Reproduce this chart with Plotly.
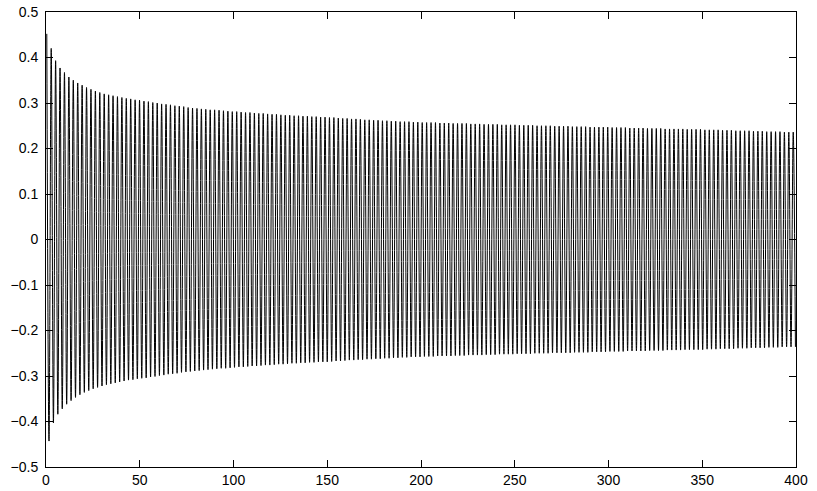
import plotly.graph_objects as go

# Signed values of successive extrema (peak, trough, peak, ...)
extrema = [
    0.452, -0.443, 0.420, -0.403, 0.393, -0.384, 0.377, -0.372, 0.367, -0.362,
    0.357, -0.354, 0.350, -0.347, 0.344, -0.341, 0.339, -0.336, 0.334, -0.332,
    0.330, -0.328, 0.326, -0.325, 0.323, -0.322, 0.320, -0.319, 0.318, -0.317,
    0.316, -0.315, 0.314, -0.313, 0.312, -0.311, 0.310, -0.309, 0.309, -0.308,
    0.307, -0.306, 0.306, -0.305, 0.304, -0.304, 0.303, -0.302, 0.301, -0.301,
    0.300, -0.299, 0.298, -0.298, 0.297, -0.296, 0.296, -0.295, 0.294, -0.294,
    0.293, -0.292, 0.292, -0.291, 0.290, -0.290, 0.289, -0.289, 0.288, -0.288,
    0.287, -0.287, 0.286, -0.286, 0.285, -0.285, 0.285, -0.284, 0.284, -0.283,
    0.283, -0.283, 0.282, -0.282, 0.281, -0.281, 0.281, -0.280, 0.280, -0.280,
    0.279, -0.279, 0.279, -0.278, 0.278, -0.278, 0.277, -0.277, 0.277, -0.276,
    0.276, -0.276, 0.275, -0.275, 0.275, -0.274, 0.274, -0.274, 0.273, -0.273,
    0.273, -0.272, 0.272, -0.272, 0.272, -0.271, 0.271, -0.271, 0.271, -0.270,
    0.270, -0.270, 0.270, -0.269, 0.269, -0.269, 0.269, -0.269, 0.268, -0.268,
    0.268, -0.267, 0.267, -0.267, 0.266, -0.266, 0.266, -0.265, 0.265, -0.265,
    0.265, -0.264, 0.264, -0.264, 0.263, -0.263, 0.263, -0.263, 0.262, -0.262,
    0.262, -0.262, 0.261, -0.261, 0.261, -0.261, 0.260, -0.260, 0.260, -0.260,
    0.259, -0.259, 0.259, -0.259, 0.259, -0.258, 0.258, -0.258, 0.258, -0.258,
    0.257, -0.257, 0.257, -0.257, 0.257, -0.257, 0.257, -0.256, 0.256, -0.256,
    0.256, -0.256, 0.256, -0.256, 0.255, -0.255, 0.255, -0.255, 0.255, -0.255,
    0.255, -0.254, 0.254, -0.254, 0.254, -0.254, 0.254, -0.254, 0.253, -0.253,
    0.253, -0.253, 0.253, -0.253, 0.253, -0.252, 0.252, -0.252, 0.252, -0.252,
    0.252, -0.252, 0.252, -0.251, 0.251, -0.251, 0.251, -0.251, 0.251, -0.251,
    0.251, -0.250, 0.250, -0.250, 0.250, -0.250, 0.250, -0.250, 0.250, -0.249,
    0.249, -0.249, 0.249, -0.249, 0.249, -0.249, 0.249, -0.249, 0.248, -0.248,
    0.248, -0.248, 0.248, -0.248, 0.248, -0.248, 0.247, -0.247, 0.247, -0.247,
    0.247, -0.247, 0.247, -0.247, 0.247, -0.246, 0.246, -0.246, 0.246, -0.246,
    0.246, -0.246, 0.246, -0.245, 0.245, -0.245, 0.245, -0.245, 0.245, -0.245,
    0.245, -0.245, 0.244, -0.244, 0.244, -0.244, 0.244, -0.244, 0.244, -0.244,
    0.243, -0.243, 0.243, -0.243, 0.243, -0.243, 0.243, -0.243, 0.243, -0.242,
    0.242, -0.242, 0.242, -0.242, 0.242, -0.242, 0.242, -0.242, 0.241, -0.241,
    0.241, -0.241, 0.241, -0.241, 0.241, -0.240, 0.240, -0.240, 0.240, -0.240,
    0.240, -0.240, 0.239, -0.239, 0.239, -0.239, 0.239, -0.239, 0.239, -0.238,
    0.238, -0.238, 0.238, -0.238, 0.238, -0.238, 0.237, -0.237, 0.237, -0.237,
    0.237, -0.237, 0.237, -0.236, 0.236, -0.236, 0.236, -0.236, 0.236, -0.236,
]
first_extremum_x = 0.422     # x of first extremum (read)
half_period = 1.1778         # spacing between successive extrema (read)

x_tick_vals = [0, 50, 100, 150, 200, 250, 300, 350, 400]
x_tick_text = ["0", "50", "100", "150", "200", "250", "300", "350", "400"]
y_tick_vals = [0.5, 0.4, 0.3, 0.2, 0.1, 0, -0.1, -0.2, -0.3, -0.4, -0.5]
y_tick_text = ["0.5", "0.4", "0.3", "0.2", "0.1", "0",
               "\u22120.1", "\u22120.2", "\u22120.3", "\u22120.4", "\u22120.5"]

fig = go.Figure()
fig.add_trace(go.Scatter(
    y=extrema, x0=first_extremum_x, dx=half_period,
    mode="lines",
    line=dict(color="black", width=1, shape="spline", smoothing=1.0),
    showlegend=False, hoverinfo="skip",
))

axis_common = dict(
    showline=True, linecolor="black", linewidth=1, mirror="ticks",
    ticks="inside", ticklen=7, tickcolor="black", tickwidth=1,
    showgrid=False, zeroline=False, automargin=False,
    tickfont=dict(family="Liberation Sans, Arial, sans-serif", size=14, color="black"),
)
fig.update_xaxes(range=[0, 400], tickmode="array", tickvals=x_tick_vals,
                 ticktext=x_tick_text, **axis_common)
fig.update_yaxes(range=[-0.5, 0.5], tickmode="array", tickvals=y_tick_vals,
                 ticktext=y_tick_text, ticklabelstandoff=4, **axis_common)

fig.update_layout(
    template="none",
    width=817, height=491, autosize=False,
    margin=dict(l=46, r=21, t=12, b=24, pad=0, autoexpand=False),
    plot_bgcolor="white", paper_bgcolor="white",
)
fig.write_html("out.html",
               config={"responsive": False, "displayModeBar": False},
               post_script="document.body.style.margin='0';document.body.style.padding='0';document.body.style.overflow='hidden';")
